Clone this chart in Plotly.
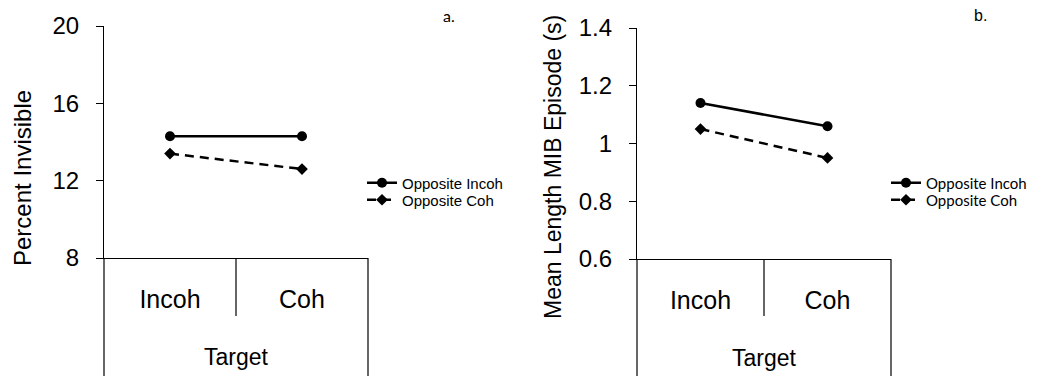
import plotly.graph_objects as go

W, H = 1058, 376

# Category labels along the target axis
categories = ["Incoh", "Coh"]
cat_pos = [0, 1]

# Panel a: percent of time the target was invisible
pct_opp_incoh = [14.3, 14.3]
pct_opp_coh = [13.4, 12.6]

# Panel b: mean length of MIB episodes (seconds)
len_opp_incoh = [1.14, 1.06]
len_opp_coh = [1.05, 0.95]

series_names = ["Opposite Incoh", "Opposite Coh"]
y_ticks_a = [8, 12, 16, 20]
y_ticks_b = [0.6, 0.8, 1.0, 1.2, 1.4]
y_ticktext_b = ["0.6", "0.8", "1", "1.2", "1.4"]


def px_x(p):
    return p / W


def px_y(p):
    return 1 - p / H


ARIAL = "Arial, Liberation Sans, sans-serif"
fig = go.Figure()

solid = dict(color="black", width=2.5)
dashed = dict(color="black", width=2.5, dash="9px,6px")
circ = dict(symbol="circle", size=10, color="black")
diam = dict(symbol="diamond", size=9, color="black")

fig.add_trace(go.Scatter(x=cat_pos, y=pct_opp_incoh, mode="lines+markers", name=series_names[0],
                         line=solid, marker=circ, xaxis="x", yaxis="y", legend="legend"))
fig.add_trace(go.Scatter(x=cat_pos, y=pct_opp_coh, mode="lines+markers", name=series_names[1],
                         line=dashed, marker=diam, xaxis="x", yaxis="y", legend="legend2"))
fig.add_trace(go.Scatter(x=cat_pos, y=len_opp_incoh, mode="lines+markers", name=series_names[0],
                         line=solid, marker=circ, xaxis="x2", yaxis="y2", legend="legend3"))
fig.add_trace(go.Scatter(x=cat_pos, y=len_opp_coh, mode="lines+markers", name=series_names[1],
                         line=dashed, marker=diam, xaxis="x2", yaxis="y2", legend="legend4"))

tick_font = dict(family=ARIAL, size=24, color="black")
cat_font = dict(family=ARIAL, size=25, color="black")
title_font = dict(family=ARIAL, size=23, color="black")

xa_common = dict(
    range=[-0.5, 1.5], tickvals=cat_pos, ticktext=categories, ticks="",
    showline=True, linecolor="black", linewidth=1.2, showgrid=False, zeroline=False,
    tickfont=cat_font, ticklabelstandoff=19, fixedrange=True, automargin=False,
    title=dict(text="Target", font=title_font, standoff=36),
)
ya_common = dict(
    ticks="outside", ticklen=7, tickcolor="black", tickwidth=1,
    showline=True, linecolor="black", linewidth=1.2, showgrid=False, zeroline=False,
    tickfont=tick_font, ticklabelstandoff=12, automargin=False, fixedrange=True,
)

# table edges below each category axis
shapes = []
for (left, right, top, xref) in [(104, 368, 258, "x"), (637, 891, 259, "x2")]:
    shapes.append(dict(type="line", xref="paper", yref="paper", x0=px_x(left), x1=px_x(left),
                       y0=px_y(top), y1=0, line=dict(color="black", width=1.2)))
    shapes.append(dict(type="line", xref="paper", yref="paper", x0=px_x(right), x1=px_x(right),
                       y0=px_y(top), y1=0, line=dict(color="black", width=1.2)))
    shapes.append(dict(type="line", xref=xref, yref="paper", x0=0.5, x1=0.5,
                       y0=px_y(top), y1=px_y(316), line=dict(color="black", width=1.2)))


def legend_at(xp, yp, family):
    return dict(x=px_x(xp), y=px_y(yp), xanchor="left", yanchor="middle",
                bgcolor="rgba(0,0,0,0)", font=dict(family=family, size=15, color="black"),
                itemwidth=30, tracegroupgap=0)


fig.update_layout(
    width=W, height=H, margin=dict(l=0, r=0, t=0, b=0),
    paper_bgcolor="white", plot_bgcolor="white",
    xaxis=dict(domain=[px_x(104), px_x(368)], anchor="y", **xa_common),
    yaxis=dict(domain=[px_y(258), px_y(26)], range=[8, 20], tickvals=y_ticks_a, anchor="x", **ya_common),
    xaxis2=dict(domain=[px_x(637), px_x(891)], anchor="y2", **xa_common),
    yaxis2=dict(domain=[px_y(259), px_y(28)], range=[0.6, 1.4], tickvals=y_ticks_b,
                ticktext=y_ticktext_b, anchor="x2", **ya_common),
    legend=legend_at(362, 183, ARIAL),
    legend2=legend_at(362, 200, ARIAL),
    legend3=legend_at(886, 183, "Lato, sans-serif"),
    legend4=legend_at(886, 200, "Lato, sans-serif"),
    shapes=shapes,
    annotations=[
        dict(text="Percent Invisible", textangle=-90, x=px_x(23), y=px_y(178), xref="paper", yref="paper",
             showarrow=False, font=dict(family=ARIAL, size=24, color="black"),
             xanchor="center", yanchor="middle"),
        dict(text="Mean Length MIB Episode (s)", textangle=-90, x=px_x(553), y=px_y(167),
             xref="paper", yref="paper", showarrow=False, font=title_font,
             xanchor="center", yanchor="middle"),
        dict(text="a.", x=px_x(449), y=px_y(16), xref="paper", yref="paper", showarrow=False,
             xanchor="center", yanchor="middle",
             font=dict(family="Lato, sans-serif", size=16, color="black")),
        dict(text="b.", x=px_x(980), y=px_y(16), xref="paper", yref="paper", showarrow=False,
             xanchor="center", yanchor="middle",
             font=dict(family=ARIAL, size=16, color="black")),
    ],
    showlegend=True,
)

fig.write_html("out.html")
